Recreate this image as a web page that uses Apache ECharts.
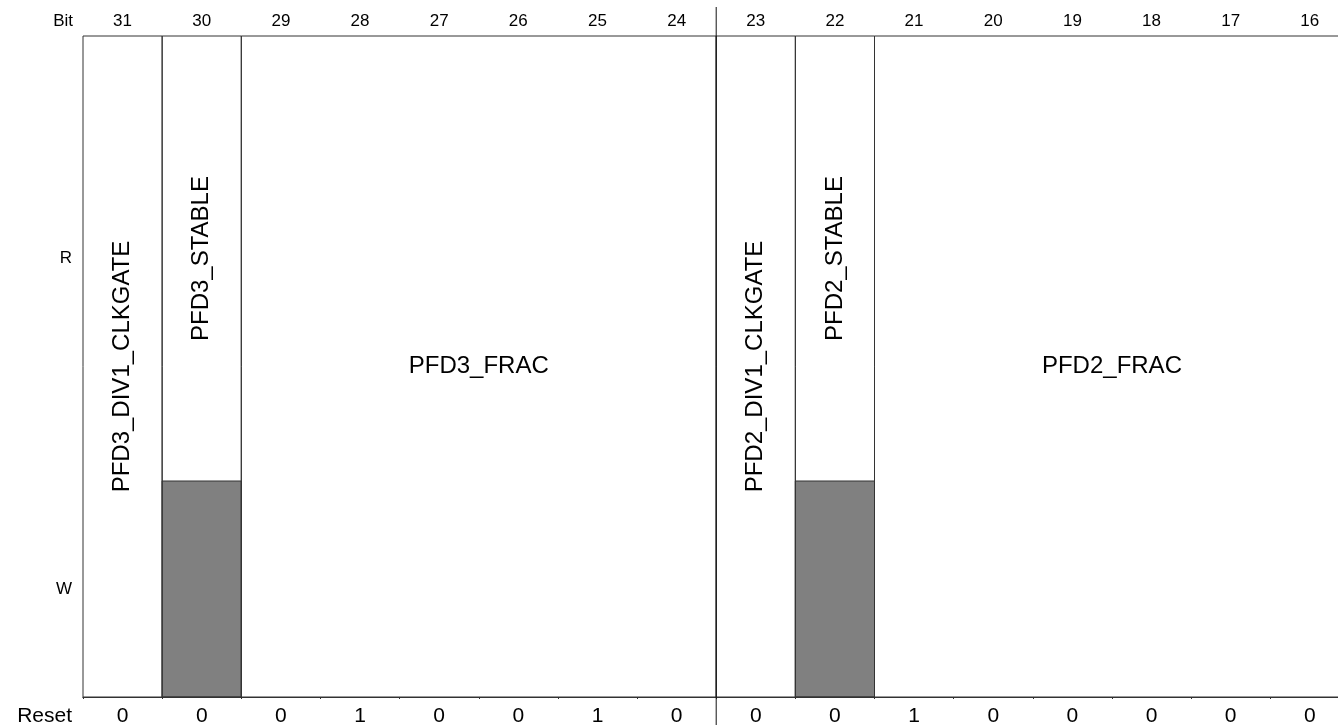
<!DOCTYPE html>
<html>
<head>
<meta charset="utf-8">
<script src="https://cdn.jsdelivr.net/npm/echarts@6/dist/echarts.min.js"></script>
<style>
html,body{margin:0;padding:0;background:#fff;overflow:hidden;}
#chart{width:1400px;height:725px;}
</style>
</head>
<body>
<div id="chart"></div>
<script>
// ---- data ----
const bits = ['31','30','29','28','27','26','25','24','23','22','21','20','19','18','17','16'];
const resetValues = ['0','0','0','1','0','0','1','0','0','0','1','0','0','0','0','0'];
const fieldNames = ['PFD3_DIV1_CLKGATE','PFD3_STABLE','PFD3_FRAC','PFD2_DIV1_CLKGATE','PFD2_STABLE','PFD2_FRAC'];
const fieldMsb = [31, 30, 29, 23, 22, 21];
const fieldLsb = [31, 30, 24, 23, 22, 16];
const fieldReadOnly = [0, 1, 0, 0, 1, 0];
const rowLabels = ['R', 'W'];
const halfwordBoundaryBit = 23;

// ---- style constants ----
const FONT = '"Liberation Sans", Arial, Helvetica, sans-serif';
const LINE = '#333';
const GRAY = '#808080';
const rwSplit = 216 / 661; // fraction of height taken by W row

const fieldData = fieldNames.map((n, i) => [
  bits.indexOf(String(fieldMsb[i])),
  bits.indexOf(String(fieldLsb[i])),
  fieldReadOnly[i],
  i
]);

const chart = echarts.init(document.getElementById('chart'), null, {renderer: 'canvas'});

function renderItem(params, api) {
  const iMsb = api.value(0), iLsb = api.value(1), ro = api.value(2), idx = api.value(3);
  const band = api.size([1, 0])[0];
  const pTop = api.coord([iMsb, 1]);
  const pBot = api.coord([iLsb, 0]);
  const x0 = pTop[0] - band / 2, x1 = pBot[0] + band / 2;
  const y0 = pTop[1], y1 = pBot[1];
  const ySplit = api.coord([iMsb, rwSplit])[1];
  const children = [];
  if (ro) {
    children.push({
      type: 'rect',
      shape: {x: x0, y: ySplit, width: x1 - x0, height: y1 - ySplit},
      style: {fill: GRAY, stroke: LINE, lineWidth: 1}
    });
  }
  children.push({
    type: 'rect',
    shape: {x: x0, y: y0, width: x1 - x0, height: y1 - y0},
    style: {fill: 'none', stroke: LINE, lineWidth: 1}
  });
  const single = iMsb === iLsb;
  const cx = (x0 + x1) / 2;
  const cy = ro ? (y0 + ySplit) / 2 : (y0 + y1) / 2;
  children.push({
    type: 'text',
    x: cx, y: cy,
    rotation: single ? Math.PI / 2 : 0,
    style: {
      text: fieldNames[idx],
      font: '24px ' + FONT,
      fill: '#000',
      align: 'center',
      verticalAlign: 'middle'
    }
  });
  if (fieldMsb[idx] === halfwordBoundaryBit) {
    children.push({
      type: 'line',
      shape: {x1: x0, y1: y0 - 29, x2: x0, y2: api.getHeight()},
      style: {stroke: '#111', lineWidth: 1}
    });
  }
  return {type: 'group', children};
}

const option = {
  animation: false,
  backgroundColor: '#fff',
  grid: {left: 83, top: 36, width: 1266.4, height: 661, outerBoundsMode: 'none', containLabel: false},
  xAxis: [
    {
      type: 'category',
      position: 'top',
      data: bits,
      boundaryGap: true,
      axisLine: {show: true, lineStyle: {color: LINE, width: 1}},
      axisTick: {show: true, inside: true, length: 2, lineStyle: {color: LINE}},
      axisLabel: {color: '#000', fontSize: 17, fontFamily: FONT, margin: 6, interval: 0},
      splitLine: {show: false}
    },
    {
      type: 'category',
      position: 'bottom',
      data: bits,
      boundaryGap: true,
      axisLine: {show: true, lineStyle: {color: LINE, width: 1}},
      axisTick: {show: false},
      axisLabel: {
        color: '#000', fontSize: 21, fontFamily: FONT, margin: 9, interval: 0,
        formatter: (v, i) => resetValues[i]
      },
      splitLine: {show: false}
    }
  ],
  yAxis: {type: 'value', min: 0, max: 1, show: false},
  graphic: [
    {type: 'text', x: 73, y: 21, style: {text: 'Bit', font: '17px ' + FONT, fill: '#000', align: 'right', verticalAlign: 'middle'}},
    {type: 'text', x: 72, y: 258.5, style: {text: rowLabels[0], font: '17px ' + FONT, fill: '#000', align: 'right', verticalAlign: 'middle'}},
    {type: 'text', x: 72, y: 589, style: {text: rowLabels[1], font: '17px ' + FONT, fill: '#000', align: 'right', verticalAlign: 'middle'}},
    {type: 'text', x: 72, y: 716, style: {text: 'Reset', font: '21px ' + FONT, fill: '#000', align: 'right', verticalAlign: 'middle'}}
  ],
  series: [{
    type: 'custom',
    xAxisIndex: 0,
    clip: false,
    renderItem: renderItem,
    encode: {x: [0, 1]},
    data: fieldData
  }]
};
chart.setOption(option);
</script>
</body>
</html>
